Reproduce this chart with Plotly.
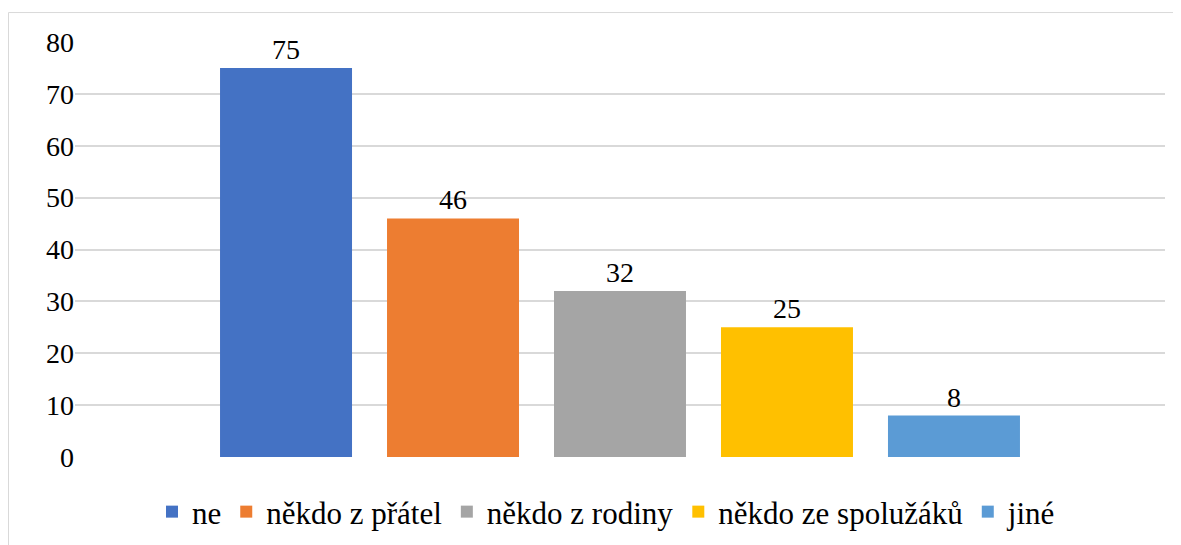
import plotly.graph_objects as go

# data
series_names = ["ne", "někdo z přátel", "někdo z rodiny", "někdo ze spolužáků", "jiné"]
series_values = [75, 46, 32, 25, 8]
series_colors = ["#4472C4", "#ED7D31", "#A5A5A5", "#FFC000", "#5B9BD5"]
category = [""]
y_ticks = [0, 10, 20, 30, 40, 50, 60, 70, 80]

FONT = "Liberation Serif"

fig = go.Figure()
for name, val, col in zip(series_names, series_values, series_colors):
    fig.add_trace(go.Bar(
        x=category, y=[val], name=name,
        marker=dict(color=col, line=dict(width=0)),
        text=[str(val)], textposition="outside", cliponaxis=False,
        textfont=dict(size=28, color="black", family=FONT),
    ))

# page adds an 8px body margin, so margins are shifted by 8px
fig.update_layout(
    template="none",
    width=1181, height=545,
    margin=dict(l=67, r=24, t=34, b=96, autoexpand=False),
    paper_bgcolor="white", plot_bgcolor="white",
    font=dict(family=FONT, size=28, color="black"),
    barmode="group", bargap=0.234, bargroupgap=0.2096,
    showlegend=True,
    legend=dict(orientation="h", x=0.4876, xanchor="center", y=-0.1325, yanchor="middle",
                font=dict(size=31, family=FONT, color="black"), traceorder="normal"),
    yaxis=dict(range=[0, 80], tickvals=y_ticks, showgrid=True, gridcolor="#d9d9d9", gridwidth=1.5,
               zeroline=False, showline=False, ticks="", ticklen=0,
               tickfont=dict(size=28, family=FONT, color="black")),
    xaxis=dict(range=[-0.5, 0.5], showticklabels=False, showgrid=False, zeroline=False, showline=False),
)

# chart frame like the original
fig.add_shape(type="rect", xref="paper", yref="paper",
              x0=-0.061, x1=1.03, y0=-0.35, y1=1.071,
              line=dict(color="#d9d9d9", width=1), layer="below")

fig.write_html("out.html")
